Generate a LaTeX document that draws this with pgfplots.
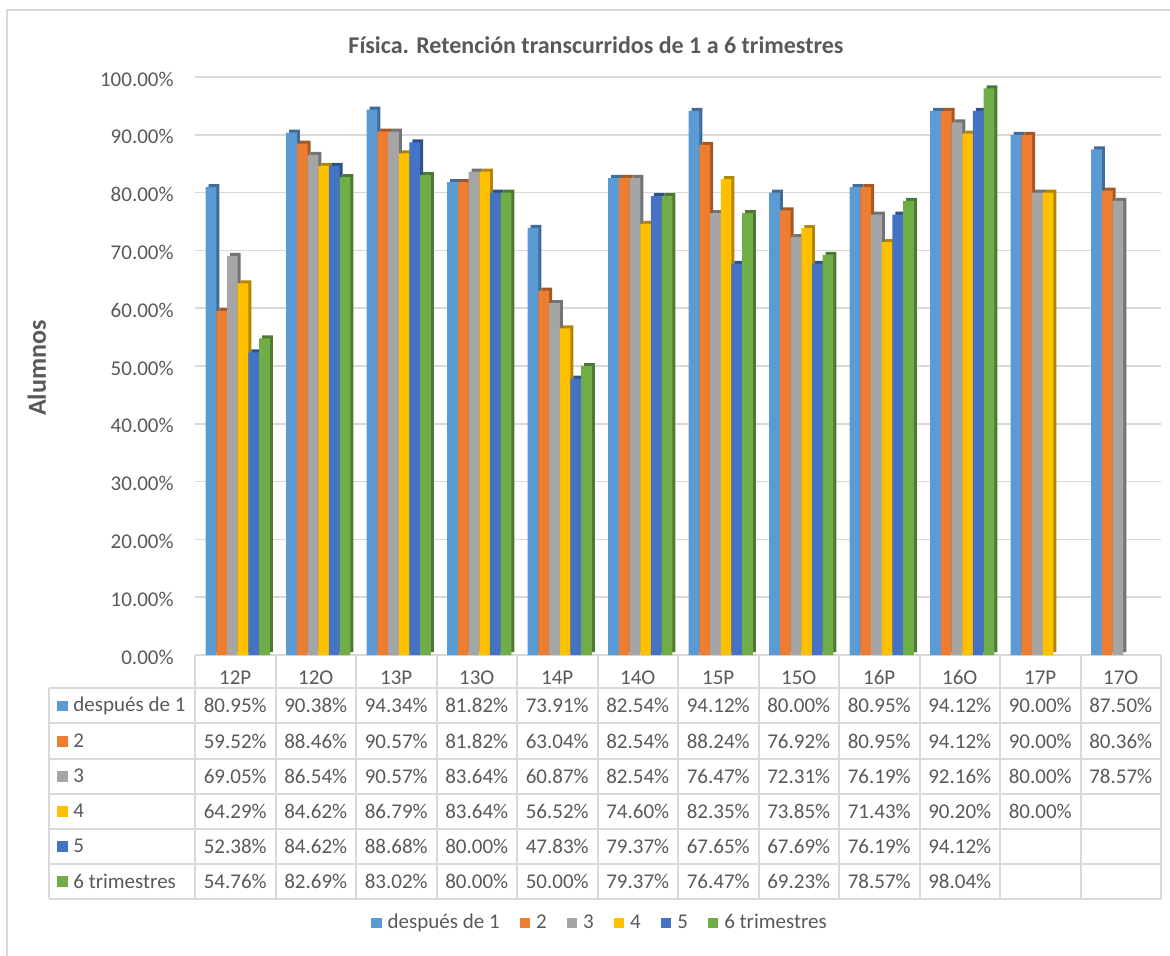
\documentclass[border=0pt]{standalone}
\usepackage{fontspec}
\setmainfont{Carlito}
\usepackage{pgfplots}
\usepackage{pgfplotstable}
\pgfplotsset{compat=1.18}

\definecolor{txt}{HTML}{595959}
\definecolor{grd}{HTML}{D9D9D9}
\definecolor{c1}{HTML}{5B9BD5}
\definecolor{c2}{HTML}{ED7D31}
\definecolor{c3}{HTML}{A5A5A5}
\definecolor{c4}{HTML}{FFC000}
\definecolor{c5}{HTML}{4472C4}
\definecolor{c6}{HTML}{70AD47}
\colorlet{c1d}{c1!70!black}
\colorlet{c2d}{c2!70!black}
\colorlet{c3d}{c3!70!black}
\colorlet{c4d}{c4!70!black}
\colorlet{c5d}{c5!70!black}
\colorlet{c6d}{c6!70!black}

% columnas: despues de 1, 2, 3, 4, 5, 6 trimestres
\pgfplotstableread{
x  s1    s2    s3    s4    s5    s6
0  80.95 59.52 69.05 64.29 52.38 54.76
1  90.38 88.46 86.54 84.62 84.62 82.69
2  94.34 90.57 90.57 86.79 88.68 83.02
3  81.82 81.82 83.64 83.64 80.00 80.00
4  73.91 63.04 60.87 56.52 47.83 50.00
5  82.54 82.54 82.54 74.60 79.37 79.37
6  94.12 88.24 76.47 82.35 67.65 76.47
7  80.00 76.92 72.31 73.85 67.69 69.23
8  80.95 80.95 76.19 71.43 76.19 78.57
9  94.12 94.12 92.16 90.20 94.12 98.04
10 90.00 90.00 80.00 80.00 nan   nan
11 87.50 80.36 78.57 nan   nan   nan
}\data

\newcommand{\fs}{\fontsize{10.5}{12.6}\selectfont}
\def\nanstr{nan}

\begin{document}
\begin{tikzpicture}
\begin{axis}[
  at={(0,0)}, anchor=south west,
  scale only axis, width=483pt, height=289pt,
  xmin=-0.5, xmax=11.5, ymin=0, ymax=100,
  ybar, bar width=5.35pt,
  axis line style={draw=none},
  major tick length=0pt,
  ytick={0,10,...,100},
  ymajorgrids, grid style={grd, line width=0.75pt},
  xtick={0,...,11},
  xticklabels={12P,12O,13P,13O,14P,14O,15P,15O,16P,16O,17P,17O},
  xticklabel style={anchor=center, yshift=-11.35pt},
  yticklabel={\pgfmathprintnumber[fixed,fixed zerofill,precision=2]{\tick}\%},
  yticklabel style={anchor=east, inner sep=0pt, xshift=-10.5pt, yshift=-1pt},
  /pgf/number format/assume math mode=true,
  tick label style={font=\fs, text=txt},
  title={Física. Retención transcurridos de 1 a 6 trimestres},
  every axis title/.style={at={(axis description cs:0.4151,1.0554)}, anchor=center,
    font=\bfseries\fontsize{12}{14}\selectfont, text=txt},
  ylabel={Alumnos},
  every axis y label/.style={at={(axis description cs:-0.1636,0.4965)}, rotate=90, anchor=center,
    font=\bfseries\fontsize{13}{15}\selectfont, text=txt},
  legend style={at={(axis description cs:0.4193,-0.4637)}, anchor=center, draw=none, fill=none,
    font=\fs, text=txt, legend columns=-1,
    /tikz/every odd column/.append style={column sep=2pt},
    /tikz/every even column/.append style={column sep=9pt},
    nodes={inner sep=1pt}},
  legend image code/.code={\fill[#1] (0pt,-2.6pt) rectangle (5.2pt,2.6pt);},
  clip=false,
]
% caras laterales (efecto 3D)
\addplot[forget plot, draw=none, fill=c1d, bar shift=-10.625pt, yshift=1.5pt] table[x=x,y=s1]{\data};
\addplot[forget plot, draw=none, fill=c2d, bar shift=-5.275pt, yshift=1.5pt] table[x=x,y=s2]{\data};
\addplot[forget plot, draw=none, fill=c3d, bar shift=0.075pt, yshift=1.5pt] table[x=x,y=s3]{\data};
\addplot[forget plot, draw=none, fill=c4d, bar shift=5.425pt, yshift=1.5pt] table[x=x,y=s4]{\data};
\addplot[forget plot, draw=none, fill=c5d, bar shift=10.775pt, yshift=1.5pt] table[x=x,y=s5]{\data};
\addplot[forget plot, draw=none, fill=c6d, bar shift=16.125pt, yshift=1.5pt] table[x=x,y=s6]{\data};
% barras
\addplot[draw=none, fill=c1, bar shift=-12.125pt] table[x=x,y=s1]{\data};
\addplot[draw=none, fill=c2, bar shift=-6.775pt] table[x=x,y=s2]{\data};
\addplot[draw=none, fill=c3, bar shift=-1.425pt] table[x=x,y=s3]{\data};
\addplot[draw=none, fill=c4, bar shift=3.925pt] table[x=x,y=s4]{\data};
\addplot[draw=none, fill=c5, bar shift=9.275pt] table[x=x,y=s5]{\data};
\addplot[draw=none, fill=c6, bar shift=14.625pt] table[x=x,y=s6]{\data};
\legend{después de 1,2,3,4,5,6 trimestres}
\end{axis}

% tabla de datos, en pixeles de la imagen
\begin{scope}[x=0.5pt, y=-0.5pt, shift={(-97.5pt,327.5pt)}]
  \foreach \k in {0,...,12}
    \draw[grd, line width=1pt] ({195+80.5*\k},655) -- ({195+80.5*\k},899);
  \draw[grd, line width=1pt] (49,688.3) -- (49,899);
  \foreach \r in {0,...,6}
    \draw[grd, line width=1pt] (49,{688.3+35.1*\r}) -- (1161,{688.3+35.1*\r});
  \foreach \name/\col [count=\r from 0] in {después de 1/c1, 2/c2, 3/c3, 4/c4, 5/c5, 6 trimestres/c6} {
    \fill[\col] (57,{700.9+35.1*\r}) rectangle (68,{711.4+35.1*\r});
    \node[anchor=west, inner sep=0pt, font=\fs, text=txt] at (73,{705.9+35.1*\r}) {\name};
  }
  \foreach \c [count=\r from 0] in {s1,s2,s3,s4,s5,s6} {
    \foreach \k in {0,...,11} {
      \pgfplotstablegetelem{\k}{\c}\of\data
      \edef\val{\pgfplotsretval}
      \ifx\val\nanstr\else
        \node[font=\fs, text=txt] at ({195+80.5*(\k+0.5)},{705.9+35.1*\r}) {\val\%};
      \fi
    }
  }
  \draw[grd, line width=0.75pt] (7,980) -- (7,10) -- (1200,10);
  \pgfresetboundingbox
  \path[use as bounding box] (0,0) rectangle (1170,955);
\end{scope}
\end{tikzpicture}
\end{document}
